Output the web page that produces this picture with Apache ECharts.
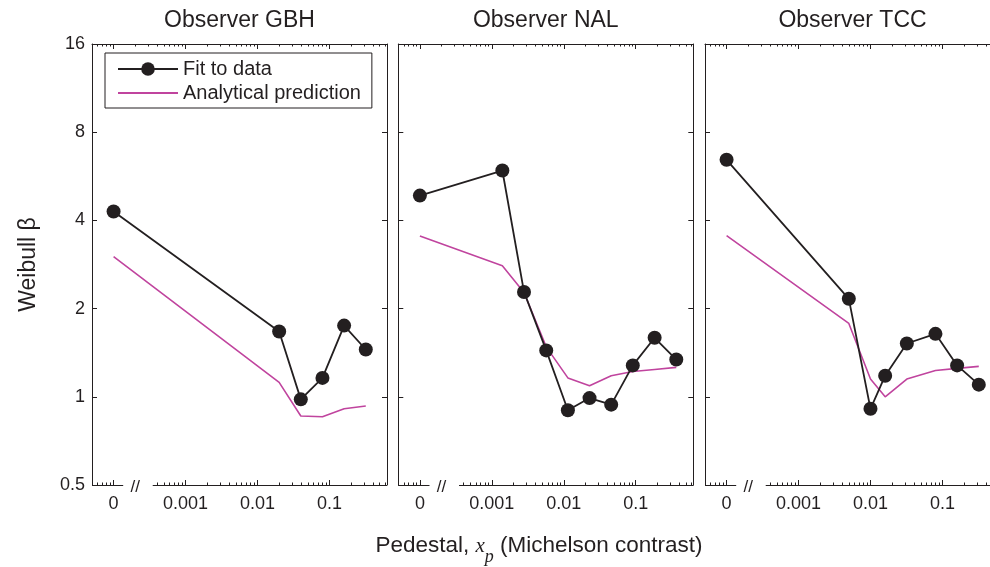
<!DOCTYPE html>
<html>
<head>
<meta charset="utf-8">
<script src="https://cdn.jsdelivr.net/npm/echarts@6/dist/echarts.min.js"></script>
<style>
  html, body { margin: 0; padding: 0; background: #fff; }
  #chart { width: 990px; height: 567px; }
</style>
</head>
<body>
<div id="chart"></div>
<script>
// Weibull slope (beta) against pedestal contrast, one panel per observer.
// A pedestal of 0 is drawn one decade below 0.001, past the axis break.

const observers = ['Observer GBH', 'Observer NAL', 'Observer TCC'];

const pedestalGBH = [0, 0.02, 0.04, 0.08, 0.16, 0.32];
const fitGBH      = [4.29, 1.67, 0.98, 1.16, 1.75, 1.45];
const predGBH     = [3.01, 1.12, 0.86, 0.855, 0.91, 0.93];

const pedestalNAL = [0, 0.0014, 0.0028, 0.0057, 0.0114, 0.0228, 0.0456, 0.091, 0.183, 0.366];
const fitNAL      = [4.86, 5.92, 2.28, 1.44, 0.90, 0.99, 0.94, 1.28, 1.59, 1.34];
const predNAL     = [3.54, 2.80, 2.27, 1.48, 1.16, 1.09, 1.18, 1.22, 1.24, 1.26];

const pedestalTCC = [0, 0.005, 0.01, 0.016, 0.032, 0.08, 0.16, 0.32];
const fitTCC      = [6.44, 2.16, 0.91, 1.18, 1.52, 1.64, 1.28, 1.10];
const predTCC     = [3.55, 1.78, 1.15, 1.00, 1.15, 1.23, 1.25, 1.27];

const xTickValues = [0, 0.001, 0.01, 0.1];
const xTickLabels = ['0', '0.001', '0.01', '0.1'];
const yTickValues = [0.5, 1, 2, 4, 8, 16];
const yTickLabels = ['0.5', '1', '2', '4', '8', '16'];

const seriesNames = ['Fit to data', 'Analytical prediction'];

const panels = [
  { pedestal: pedestalGBH, fit: fitGBH, pred: predGBH },
  { pedestal: pedestalNAL, fit: fitNAL, pred: predNAL },
  { pedestal: pedestalTCC, fit: fitTCC, pred: predTCC }
];

// ---- styling / layout ----
const INK = '#231f20';
const MAGENTA = '#c0449e';
const FONT = '"Liberation Sans", Arial, Helvetica, sans-serif';
const SERIF = '"Liberation Serif", "Times New Roman", serif';

const XMIN = Math.pow(10, -4.3);
const XMAX = Math.pow(10, -0.2);
const ZERO_POS = 1e-4;            // where a zero pedestal sits on the log axis
const GAP = [1.36e-4, 3.5e-4];    // break in the bottom axis line
const BREAK_MARK_AT = 2e-4;

const gridLeft = [92, 398.3, 705];
const GRID_TOP = 44, GRID_W = 295, GRID_H = 441;

const pos = v => (v === 0 ? ZERO_POS : v);
const majorX = xTickValues.map(pos);

const minorAll = [];
for (let e = -5; e <= -1; e++) {
  for (let k = 2; k <= 9; k++) {
    const v = k * Math.pow(10, e);
    if (v > XMIN && v < XMAX) minorAll.push(v);
  }
}
const minorBottom = minorAll.filter(v => v < GAP[0] || v > GAP[1]);

function xLabel(v) {
  for (let i = 0; i < majorX.length; i++) {
    if (Math.abs(Math.log10(v) - Math.log10(majorX[i])) < 1e-6) return xTickLabels[i];
  }
  return '';
}
function yLabel(v) {
  for (let i = 0; i < yTickValues.length; i++) {
    if (Math.abs(Math.log2(v) - Math.log2(yTickValues[i])) < 1e-6) return yTickLabels[i];
  }
  return '';
}

const grids = [], xAxes = [], yAxes = [], series = [];

panels.forEach((p, g) => {
  grids.push({
    left: gridLeft[g], top: GRID_TOP, width: GRID_W, height: GRID_H,
    outerBoundsMode: 'none', containLabel: false
  });

  const xBase = {
    type: 'log', logBase: 10, min: XMIN, max: XMAX, gridIndex: g,
    splitLine: { show: false }, axisPointer: { show: false }
  };
  // bottom: major ticks + labels (the line itself is drawn with a break)
  xAxes.push(Object.assign({}, xBase, {
    position: 'bottom',
    axisLine: { show: false },
    axisTick: { show: true, inside: true, length: 5, customValues: majorX, lineStyle: { color: INK, width: 1 } },
    axisLabel: { show: true, customValues: majorX, formatter: xLabel, fontSize: 18, color: INK, fontFamily: FONT, margin: 10 }
  }));
  // bottom: minor ticks
  xAxes.push(Object.assign({}, xBase, {
    position: 'bottom',
    axisLine: { show: false },
    axisTick: { show: true, inside: true, length: 2.5, customValues: minorBottom, lineStyle: { color: INK, width: 1 } },
    axisLabel: { show: false }
  }));
  // top: frame line, major ticks, panel title
  xAxes.push(Object.assign({}, xBase, {
    position: 'top',
    name: observers[g], nameLocation: 'middle', nameGap: 12,
    nameTextStyle: { fontSize: 23, color: INK, fontFamily: FONT },
    axisLine: { show: true, lineStyle: { color: INK, width: 1 } },
    axisTick: { show: true, inside: true, length: 5, customValues: majorX, lineStyle: { color: INK, width: 1 } },
    axisLabel: { show: false }
  }));
  // top: minor ticks
  xAxes.push(Object.assign({}, xBase, {
    position: 'top',
    axisLine: { show: false },
    axisTick: { show: true, inside: true, length: 2.5, customValues: minorAll, lineStyle: { color: INK, width: 1 } },
    axisLabel: { show: false }
  }));

  const yBase = {
    type: 'log', logBase: 2, min: 0.5, max: 16, gridIndex: g,
    splitLine: { show: false }, axisPointer: { show: false },
    axisLine: { show: true, lineStyle: { color: INK, width: 1 } },
    axisTick: { show: true, inside: true, length: 5, customValues: yTickValues, lineStyle: { color: INK, width: 1 } }
  };
  yAxes.push(Object.assign({}, yBase, {
    position: 'left',
    name: g === 0 ? 'Weibull β' : '', nameLocation: 'middle', nameGap: 52,
    nameTextStyle: { fontSize: 23, color: INK, fontFamily: FONT },
    axisLabel: { show: g === 0, customValues: yTickValues, formatter: yLabel, fontSize: 18, color: INK, fontFamily: FONT, margin: 7 }
  }));
  yAxes.push(Object.assign({}, yBase, {
    position: 'right',
    axisLabel: { show: false }
  }));

  series.push({
    type: 'line', name: seriesNames[1],
    xAxisIndex: 4 * g, yAxisIndex: 2 * g,
    data: p.pedestal.map((x, i) => [pos(x), p.pred[i]]),
    symbol: 'none',
    lineStyle: { color: MAGENTA, width: 1.6 },
    itemStyle: { color: MAGENTA },
    silent: true, z: 2
  });
  series.push({
    type: 'line', name: seriesNames[0],
    xAxisIndex: 4 * g, yAxisIndex: 2 * g,
    data: p.pedestal.map((x, i) => [pos(x), p.fit[i]]),
    symbol: 'circle', symbolSize: 14,
    lineStyle: { color: INK, width: 1.8 },
    itemStyle: { color: INK },
    silent: true, z: 3
  });
});

const chart = echarts.init(document.getElementById('chart'), null, { renderer: 'canvas' });

chart.setOption({
  animation: false,
  backgroundColor: '#fff',
  grid: grids,
  xAxis: xAxes,
  yAxis: yAxes,
  legend: {
    data: [
      { name: seriesNames[0] },
      { name: seriesNames[1], itemStyle: { opacity: 0 } }
    ],
    orient: 'vertical',
    left: 105, top: 53,
    itemWidth: 60, itemHeight: 17, itemGap: 4,
    padding: [6, 11, 5, 12],
    borderColor: INK, borderWidth: 1, borderRadius: 0,
    backgroundColor: '#fff',
    textStyle: { fontSize: 20, color: INK, fontFamily: FONT },
    selectedMode: false
  },
  series: series
});

// Bottom axis lines with the "//" break, placed through each panel's scales
const graphics = [];
panels.forEach((p, g) => {
  const finder = { xAxisIndex: 4 * g, yAxisIndex: 2 * g };
  const a = chart.convertToPixel(finder, [XMIN, 0.5]);
  const b = chart.convertToPixel(finder, [GAP[0], 0.5]);
  const c = chart.convertToPixel(finder, [GAP[1], 0.5]);
  const d = chart.convertToPixel(finder, [XMAX, 0.5]);
  const m = chart.convertToPixel(finder, [BREAK_MARK_AT, 0.5]);
  const y = Math.round(a[1]) + 0.5;
  graphics.push({ type: 'line', silent: true, shape: { x1: a[0], y1: y, x2: b[0], y2: y }, style: { stroke: INK, lineWidth: 1 } });
  graphics.push({ type: 'line', silent: true, shape: { x1: c[0], y1: y, x2: d[0], y2: y }, style: { stroke: INK, lineWidth: 1 } });
  graphics.push({
    type: 'text', silent: true, x: m[0], y: y + 2,
    style: { text: '//', fontSize: 17, fontFamily: FONT, fill: INK, align: 'center', verticalAlign: 'middle' }
  });
});

graphics.push({
  type: 'text', silent: true, x: 539, y: 546,
  style: {
    text: 'Pedestal, {x|x}{p|p} (Michelson contrast)',
    fontSize: 22.5, fontFamily: FONT, fill: INK, align: 'center', verticalAlign: 'middle', lineHeight: 40,
    rich: {
      x: { fontSize: 21, fontFamily: SERIF, fontStyle: 'italic', fill: INK, lineHeight: 40 },
      p: { fontSize: 18, fontFamily: SERIF, fontStyle: 'italic', fill: INK, verticalAlign: 'bottom' }
    }
  }
});

chart.setOption({ graphic: graphics });
</script>
</body>
</html>
